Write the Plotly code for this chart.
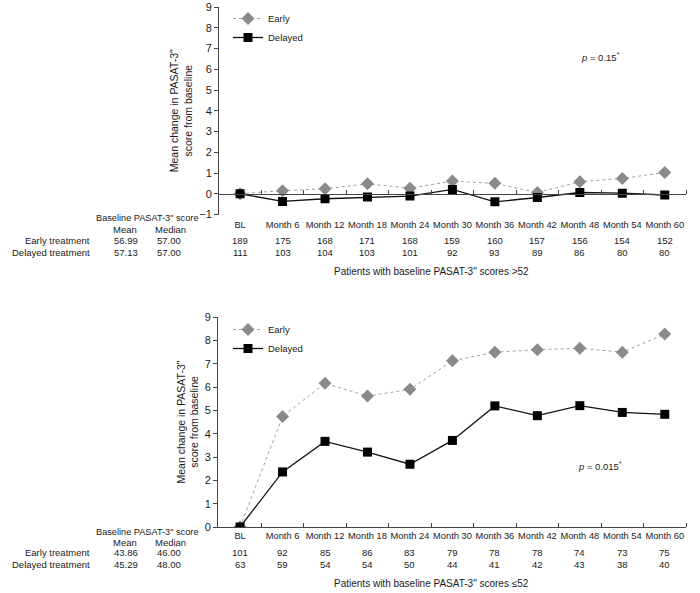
import plotly.graph_objects as go

W, H = 700, 593

months = ["BL", "Month 6", "Month 12", "Month 18", "Month 24", "Month 30",
          "Month 36", "Month 42", "Month 48", "Month 54", "Month 60"]

# patients with baseline PASAT-3 > 52
hi_early = [0, 0.15, 0.24, 0.48, 0.27, 0.61, 0.50, 0.06, 0.58, 0.74, 1.02]
hi_delayed = [0, -0.37, -0.24, -0.16, -0.11, 0.21, -0.39, -0.18, 0.06, 0.03, -0.06]
hi_n_early = [189, 175, 168, 171, 168, 159, 160, 157, 156, 154, 152]
hi_n_delayed = [111, 103, 104, 103, 101, 92, 93, 89, 86, 80, 80]
hi_base = {"Early treatment": ("56.99", "57.00"), "Delayed treatment": ("57.13", "57.00")}

# patients with baseline PASAT-3 <= 52
lo_early = [0, 4.74, 6.16, 5.61, 5.90, 7.12, 7.49, 7.60, 7.66, 7.49, 8.27]
lo_delayed = [0, 2.36, 3.67, 3.21, 2.69, 3.71, 5.19, 4.77, 5.20, 4.91, 4.83]
lo_n_early = [101, 92, 85, 86, 83, 79, 78, 78, 74, 73, 75]
lo_n_delayed = [63, 59, 54, 54, 50, 44, 41, 42, 43, 38, 40]
lo_base = {"Early treatment": ("43.86", "46.00"), "Delayed treatment": ("45.29", "48.00")}

FONT = "Liberation Sans, Arial, sans-serif"
INK = "#1a1a1a"
GREY = "#8a8a8a"


def px(x):
    return x / W


def py(y):
    return (H - y) / H


xpos = list(range(len(months)))

fig = go.Figure()

for xa, ya, early, delayed, leg in [("x", "y", hi_early, hi_delayed, "legend"),
                                     ("x2", "y2", lo_early, lo_delayed, "legend2")]:
    fig.add_trace(go.Scatter(x=xpos, y=early, xaxis=xa, yaxis=ya, name="Early",
                             mode="lines+markers", legend=leg,
                             line=dict(color="#a0a0a0", width=1, dash="dot"),
                             marker=dict(symbol="diamond", size=10, color=GREY)))
    fig.add_trace(go.Scatter(x=xpos, y=delayed, xaxis=xa, yaxis=ya, name="Delayed",
                             mode="lines+markers", legend=leg,
                             line=dict(color="#111111", width=1.3),
                             marker=dict(symbol="square", size=9, color="#000000")))

xcommon = dict(domain=[px(218), px(686)], range=[-0.52, 10.5], tickmode="array",
               tickvals=xpos, ticktext=months, ticks="", showline=True,
               linecolor="#444", linewidth=1, showgrid=False, zeroline=False,
               tickangle=0, automargin=False,
               tickfont=dict(size=9.3, color=INK, family=FONT),
               minor=dict(tickmode="array", tickvals=[i + 0.5 for i in xpos],
                          ticks="inside", ticklen=4, tickcolor="#444"))
ytitle = dict(text='Mean change in PASAT-3"<br>score from baseline',
              font=dict(size=10.5, color=INK, family=FONT), standoff=3)
ycommon = dict(showline=True, linecolor="#444", linewidth=1, ticks="outside",
               ticklen=4, tickcolor="#444", showgrid=False, zeroline=False,
               automargin=False, dtick=1,
               tickfont=dict(size=11, color=INK, family=FONT), title=ytitle)

fig.update_layout(
    xaxis=dict(xcommon, anchor="free", position=py(193.5), ticklabelstandoff=22),
    yaxis=dict(ycommon, domain=[py(214.5), py(7)], range=[-1, 9], anchor="free",
               position=px(218)),
    xaxis2=dict(xcommon, anchor="y2"),
    yaxis2=dict(ycommon, domain=[py(527), py(317)], range=[0, 9], anchor="x2"),
)

legend_style = dict(font=dict(size=9.5, color=INK, family=FONT), bgcolor="rgba(0,0,0,0)",
                    itemwidth=30, tracegroupgap=0, xanchor="left", yanchor="top")
fig.update_layout(
    legend=dict(legend_style, x=px(228), y=py(4)),
    legend2=dict(legend_style, x=px(228), y=py(315)),
)

ann = []


def txt(x, y, s, xanchor="center", xref="paper", size=9.5):
    ann.append(dict(x=x, y=y, text=s, xref=xref, yref="paper", showarrow=False,
                    xanchor=xanchor, yanchor="middle",
                    font=dict(size=size, color=INK, family=FONT)))


# rows: header, mean/median, early, delayed, title
for rows, base, n_e, n_d, xr, title, pval, pval_y in [
        ((218, 229.5, 240.5, 252, 271), hi_base, hi_n_early, hi_n_delayed, "x",
         'Patients with baseline PASAT-3" scores &gt;52', "<i>p</i> = 0.15<sup>*</sup>", 57),
        ((532, 542.5, 552.5, 564, 583), lo_base, lo_n_early, lo_n_delayed, "x2",
         'Patients with baseline PASAT-3" scores \u226452', "<i>p</i> = 0.015<sup>*</sup>", 466)]:
    y_head, y_mm, y_e, y_d, y_t = rows
    txt(px(147), py(y_head), 'Baseline PASAT-3" score', size=9.2)
    txt(px(125), py(y_mm), "Mean")
    txt(px(170), py(y_mm), "Median")
    for yy, (label, (mean, med)) in zip((y_e, y_d), base.items()):
        txt(px(92), py(yy), label, xanchor="right")
        txt(px(126), py(yy), mean)
        txt(px(169), py(yy), med)
    for i in xpos:
        txt(i, py(y_e), str(n_e[i]), xref=xr)
        txt(i, py(y_d), str(n_d[i]), xref=xr)
    txt(px(431), py(y_t), title, size=10)
    txt(px(600), py(pval_y), pval)

fig.update_layout(annotations=ann, width=W, height=H,
                  margin=dict(l=0, r=0, t=0, b=0),
                  paper_bgcolor="white", plot_bgcolor="white",
                  font=dict(family=FONT, color=INK))

# drop the default 8px body margin so the figure fills the window exactly
fig.write_html("out.html", config={"displayModeBar": False},
               post_script="document.body.style.margin = '0';")
